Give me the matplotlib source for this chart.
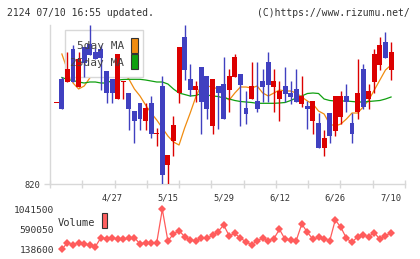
import matplotlib
matplotlib.use("Agg")
import matplotlib.pyplot as plt
from matplotlib.patches import Rectangle
import numpy as np

# 日足 61本 (始値, 高値, 安値, 終値)
opens = [901, 925, 922, 955, 917, 957, 960, 952, 955, 933, 925, 905, 922, 911, 893, 901,
         883, 901, 870, 918, 839, 863, 911, 967, 925, 914, 937, 928, 878, 918, 920, 914,
         927, 930, 896, 905, 903, 923, 942, 917, 905, 918, 911, 915, 900, 898, 883, 881,
         856, 891, 873, 887, 908, 881, 892, 935, 905, 922, 939, 962, 934]
highs = [901, 927, 952, 959, 952, 957, 979, 956, 959, 933, 925, 950, 923, 911, 893, 901,
         901, 908, 876, 928, 849, 888, 957, 979, 940, 923, 937, 928, 925, 918, 947, 935,
         950, 930, 913, 942, 942, 935, 952, 935, 923, 937, 923, 935, 928, 903, 903, 891,
         874, 891, 908, 913, 920, 891, 945, 940, 920, 955, 967, 972, 962]
lows = [901, 895, 922, 922, 917, 927, 949, 945, 914, 901, 901, 905, 905, 874, 861, 874,
        874, 866, 858, 820, 820, 848, 901, 924, 908, 902, 870, 885, 870, 875, 885, 892,
        927, 878, 880, 905, 892, 902, 902, 892, 883, 902, 900, 902, 897, 875, 870, 856,
        848, 861, 868, 880, 892, 861, 885, 895, 895, 911, 934, 946, 924]
closes = [901, 895, 935, 922, 945, 941, 949, 945, 946, 911, 911, 950, 923, 895, 883, 885,
          896, 870, 871, 829, 849, 879, 957, 934, 914, 918, 902, 895, 925, 911, 885, 928,
          947, 919, 890, 918, 895, 917, 919, 923, 913, 910, 907, 902, 908, 895, 903, 856,
          866, 868, 908, 908, 902, 870, 911, 897, 913, 950, 959, 946, 952]

nan = np.nan
ma5 = [nan, 950, 934, 921, 915, 918, 926, 932, 936, 938, 936, 934, 930, 925, 915, 908,
       899, 891, 884, 876, 868, 862, 859, 876, 891, 907, 919, 918, 917, 915, 908, 904,
       911, 917, 917, 916, 918, 911, 908, 911, 914, 913, 913, 911, 907, 903, 900, 893,
       890, 880, 878, 880, 885, 891, 891, 897, 904, 914, 924, 934, 939]
ma25 = [nan, 926.5, 924.5, 923.5, 922, 921, 922, 922, 921, 921, 923.5, 924, 924.5, 924.7,
        924.7, 924.7, 924, 923, 922, 922, 920, 915, 911, 909.5, 908, 908.5, 910.5, 909,
        908, 907.5, 906, 905, 903.5, 902.5, 902, 901.5, 900.7, 900.7, 900.7, 900.7, 901,
        901.5, 903.5, 906, 908, 910.5, 911, 910.5, 905, 903.5, 903, 903, 903, 902.5, 902,
        902, 902.5, 903, 903.5, 905, 907]

volume = [138600, 289000, 236400, 289000, 259000, 236400, 198800, 401900, 379400, 401900,
          364300, 364300, 386900, 401900, 259000, 289000, 274000, 289000, 1041500, 326700,
          484700, 559900, 424500, 349300, 326700, 386900, 386900, 454600, 537400, 687900,
          439600, 499800, 386900, 311700, 236400, 334200, 386900, 334200, 379400, 590000,
          364300, 349300, 334200, 710400, 522300, 364300, 409500, 379400, 326700, 800700,
          635200, 386900, 296600, 424500, 454600, 424500, 514800, 364300, 439600, 514800]

date_labels = ["4/27", "5/15", "5/29", "6/12", "6/26", "7/10"]
date_idx = [10, 20, 30, 40, 50, 60]

RED = "#dc0000"
BLUE = "#4040c0"
GRID = "#d8d8d8"
MONO = "DejaVu Sans Mono"

fig = plt.figure(figsize=(4.2, 2.59), dpi=100)
W, H = 420, 259
ax = fig.add_axes([50 / W, (H - 184) / H, 355 / W, 159 / H])

x = np.arange(len(opens))
o = np.array(opens, float)
c = np.array(closes, float)
up = c >= o
cols = np.where(up, RED, BLUE)

ax.plot(x, ma5, color="#f08c10", lw=0.9, zorder=1)
ax.plot(x, ma25, color="#10a010", lw=0.9, zorder=1)

# 凡例ボックス (線より上, ローソク足より下)
ax.add_patch(Rectangle((65, H - 77), 78, 47, transform=None, facecolor="white",
                       edgecolor=GRID, lw=1.0, zorder=2))

ax.vlines(x, lows, highs, colors=cols, lw=1.0, zorder=3)
body_h = np.maximum(np.abs(c - o), 1.0)
ax.bar(x, body_h, bottom=np.minimum(o, c), width=0.88, color=cols, lw=0, zorder=4)

fig.text(124 / W, 1 - 46 / H, "5day MA", ha="right", va="center", fontsize=8,
         family=MONO, color="#444444", zorder=6)
fig.text(124 / W, 1 - 63 / H, "25day MA", ha="right", va="center", fontsize=8,
         family=MONO, color="#444444", zorder=6)
fig.patches.append(Rectangle((131 / W, 1 - 52.7 / H), 6.5 / W, 15 / H, transform=fig.transFigure,
                             facecolor="#f08c10", edgecolor="#333333", lw=0.8))
fig.patches.append(Rectangle((131 / W, 1 - 69.3 / H), 6.5 / W, 15 / H, transform=fig.transFigure,
                             facecolor="#10a010", edgecolor="#333333", lw=0.8))

ax.set_xlim(-1.13, 62.5)
ax.set_ylim(820, 979)
for s in ["top", "right"]:
    ax.spines[s].set_visible(False)
ax.spines["left"].set_color(GRID)
ax.spines["bottom"].set_color(GRID)
ax.spines["left"].set_linewidth(1.0)
ax.spines["bottom"].set_linewidth(1.0)

ax.set_xticks(date_idx)
ax.set_xticklabels(date_labels, fontsize=6.3, family=MONO, color="#333333")
ax.tick_params(axis="x", which="major", length=0, pad=7)
ax.set_xticks(np.linspace(-1.13, 62.5, 12), minor=True)
ax.tick_params(axis="x", which="minor", direction="inout", length=5.5, width=1.0, color=GRID)
ax.set_yticks([820])
ax.set_yticklabels(["820"], fontsize=6.3, family=MONO, color="#333333")
ax.tick_params(axis="y", length=4, width=1.0, color=GRID, pad=3)

# 出来高
vx = fig.add_axes([50 / W, (H - 249.3) / H, 355 / W, 40 / H])
vx.plot(np.arange(1, 61), volume, color="#ff5c5c", lw=0.9, marker="D", markersize=3.6,
        markeredgewidth=0, clip_on=False)
vx.set_xlim(-1.13, 62.5)
vx.set_ylim(min(volume), max(volume))
for s in vx.spines.values():
    s.set_visible(False)
vx.set_xticks([])
vx.set_yticks([138600, 590050, 1041500])
vx.set_yticklabels(["138600", "590050", "1041500"], fontsize=6.8, family=MONO, color="#333333")
vx.tick_params(axis="y", length=0, pad=-3)
fig.text(58 / W, 1 - 222.5 / H, "Volume", ha="left", va="center", fontsize=7.5,
         family=MONO, color="#333333")
fig.patches.append(Rectangle((101.7 / W, 1 - 228.3 / H), 5.6 / W, 15 / H, transform=fig.transFigure,
                             facecolor="#ff6060", edgecolor="#333333", lw=0.8))

fig.text(7 / W, 1 - 13 / H, "2124 07/10 16:55 updated.", ha="left", va="center",
         fontsize=7.0, family=MONO, color="#333333")
fig.text(410 / W, 1 - 13 / H, "(C)https://www.rizumu.net/", ha="right", va="center",
         fontsize=7.0, family=MONO, color="#333333")

fig.savefig("out.png", dpi=100)
